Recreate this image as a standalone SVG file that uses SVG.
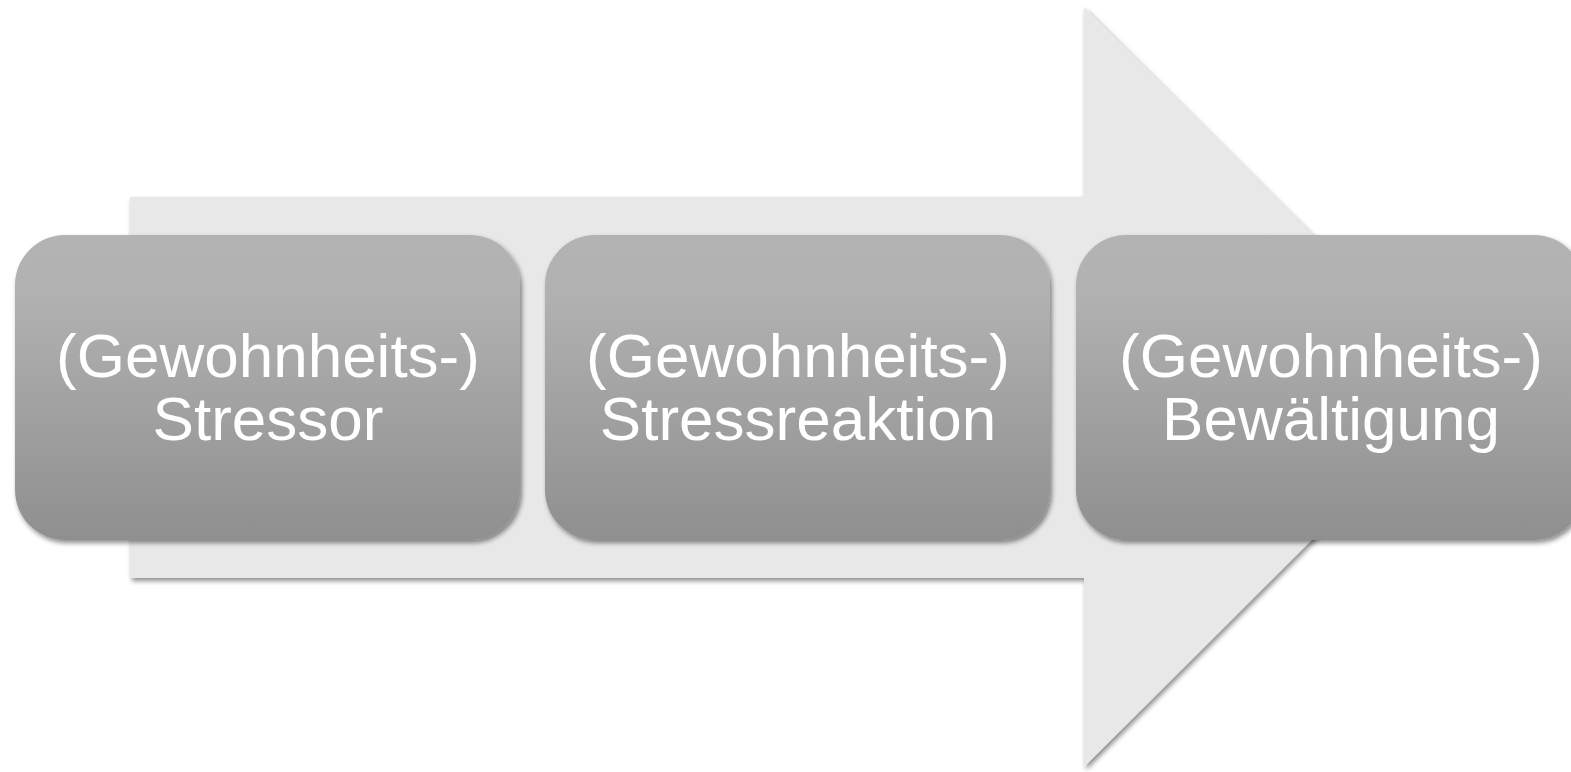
<svg xmlns="http://www.w3.org/2000/svg" width="1571" height="772" viewBox="0 0 1571 772">
<style>
.box{fill:url(#g);filter:url(#sh)}
.lbl{font-family:"Liberation Sans",Arial,sans-serif;font-size:62px;fill:#ffffff;text-anchor:middle}
</style>
<defs>
<linearGradient id="g" x1="0" y1="0" x2="0" y2="1">
<stop offset="0" stop-color="#b3b3b3"/>
<stop offset="0.2" stop-color="#b1b1b1"/>
<stop offset="1" stop-color="#8f8f8f"/>
</linearGradient>
<filter id="sh" x="-5%" y="-5%" width="110%" height="115%">
<feGaussianBlur in="SourceAlpha" stdDeviation="2.5"/>
<feOffset dx="2" dy="3" result="b"/>
<feComponentTransfer><feFuncA type="linear" slope="0.45"/></feComponentTransfer>
<feMerge><feMergeNode/><feMergeNode in="SourceGraphic"/></feMerge>
</filter>
</defs>
<rect width="1571" height="772" fill="#ffffff"/>
<g id="arrow">
<polygon points="130,197 1084,197 1084,7 1465,387 1084,767 1084,578 130,578" fill="#e8e8e8" filter="url(#sh)"/>
</g>
<g id="connectors"/>
<g id="node1">
<rect class="box" x="15" y="235" width="505" height="305" rx="50"/>
<text class="lbl" x="268" y="377">(Gewohnheits-)</text>
<text class="lbl" x="268" y="440">Stressor</text>
</g>
<g id="node2">
<rect class="box" x="545" y="235" width="505" height="305" rx="50"/>
<text class="lbl" x="798" y="377">(Gewohnheits-)</text>
<text class="lbl" x="798" y="440">Stressreaktion</text>
</g>
<g id="node3">
<rect class="box" x="1076" y="235" width="508" height="305" rx="50"/>
<text class="lbl" x="1331" y="377">(Gewohnheits-)</text>
<text class="lbl" x="1331" y="440">Bewältigung</text>
</g>
</svg>
